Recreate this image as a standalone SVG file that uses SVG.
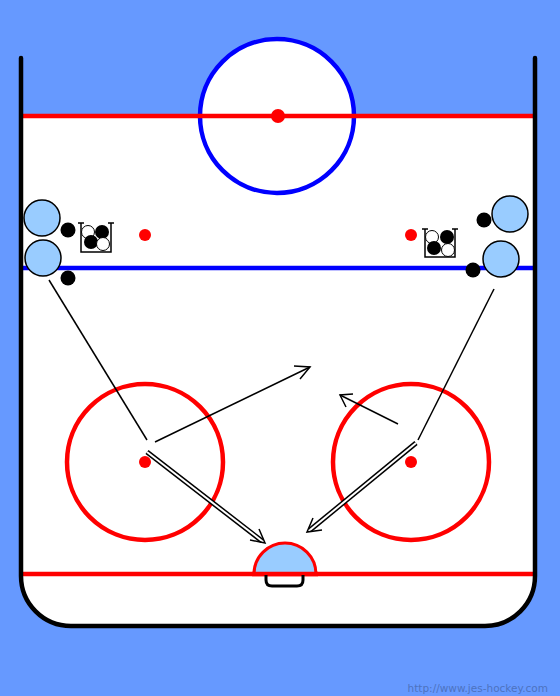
<svg xmlns="http://www.w3.org/2000/svg" width="560" height="696" viewBox="0 0 560 696">
<style>
.red{stroke:#ff0000;fill:none;stroke-width:4.5}
.dot{fill:#ff0000}
.player{fill:#99ccff;stroke:#000;stroke-width:1.5}
.puck{fill:#000}
.wpuck{fill:#fff;stroke:#000;stroke-width:1}
.line{stroke:#000;stroke-width:1.5;fill:none}
</style>
<rect width="560" height="696" fill="#6699ff"/>
<g id="rink">
<path d="M21,116 L21,576 A50,50 0 0 0 71,626 L485,626 A50,50 0 0 0 535,576 L535,116 Z" fill="#fff"/>
<circle cx="277" cy="116" r="77" fill="#fff" stroke="#0000ff" stroke-width="4.5"/>
<line x1="21" y1="116" x2="535" y2="116" stroke="#ff0000" stroke-width="4.5"/>
<circle class="dot" cx="278" cy="116" r="7"/>
<line x1="21" y1="268" x2="535" y2="268" stroke="#0000ff" stroke-width="4.5"/>
<line x1="21" y1="574" x2="535" y2="574" stroke="#ff0000" stroke-width="4.5"/>
<circle class="dot" cx="145" cy="235" r="6"/>
<circle class="dot" cx="411" cy="235" r="6"/>
<circle class="red" cx="145" cy="462" r="78"/>
<circle class="red" cx="411" cy="462" r="78"/>
<circle class="dot" cx="145" cy="462" r="6"/>
<circle class="dot" cx="411" cy="462" r="6"/>
<path d="M254,574 A31,31 0 0 1 316,574 Z" fill="#99ccff" stroke="#ff0000" stroke-width="3"/>
<line x1="252" y1="574" x2="318" y2="574" stroke="#ff0000" stroke-width="4.5"/>
<path d="M266,575 L266,580 Q266,586 272,586 L297,586 Q303,586 303,580 L303,575" fill="none" stroke="#000" stroke-width="3"/>
<path d="M21,58 L21,576 A50,50 0 0 0 71,626 L485,626 A50,50 0 0 0 535,576 L535,58" fill="none" stroke="#000" stroke-width="4.5" stroke-linecap="round"/>
</g>
<g id="bucket-left">
<path d="M78,223 L84,223 M81,223 L81,252 L111,252 L111,223 M108,223 L114,223" class="line"/>
<circle class="wpuck" cx="88" cy="232" r="6.5"/>
<circle class="puck" cx="102" cy="232" r="7"/>
<circle class="puck" cx="91" cy="242" r="7"/>
<circle class="wpuck" cx="103" cy="244" r="6.5"/>
</g>
<g id="bucket-right">
<path d="M422,229 L428,229 M425,229 L425,257 L455,257 L455,229 M452,229 L458,229" class="line"/>
<circle class="wpuck" cx="432" cy="237" r="6.5"/>
<circle class="puck" cx="447" cy="237" r="7"/>
<circle class="puck" cx="434" cy="248" r="7"/>
<circle class="wpuck" cx="448" cy="250" r="6.5"/>
</g>
<g id="players">
<circle class="player" cx="42" cy="218" r="18"/>
<circle class="player" cx="43" cy="258" r="18"/>
<circle class="player" cx="510" cy="214" r="18"/>
<circle class="player" cx="501" cy="259" r="18"/>
<circle class="puck" cx="68" cy="230" r="7.5"/>
<circle class="puck" cx="68" cy="278" r="7.5"/>
<circle class="puck" cx="484" cy="220" r="7.5"/>
<circle class="puck" cx="473" cy="270" r="7.5"/>
</g>
<g id="connectors">
<line class="line" x1="49" y1="280" x2="147" y2="440"/>
<line class="line" x1="494" y1="289" x2="418" y2="440"/>
<line class="line" x1="155" y1="442" x2="310" y2="367"/>
<path class="line" d="M294,366 L310,367 L300,379"/>
<line class="line" x1="398" y1="424" x2="340" y2="395"/>
<path class="line" d="M346,407 L340,395 L353,394"/>
<line x1="147" y1="452" x2="262" y2="541" stroke="#000" stroke-width="5"/>
<line x1="147" y1="452" x2="262" y2="541" stroke="#fff" stroke-width="2"/>
<path class="line" d="M250,540 L265,543 L259,529"/>
<line x1="416" y1="443" x2="310" y2="530" stroke="#000" stroke-width="5"/>
<line x1="416" y1="443" x2="310" y2="530" stroke="#fff" stroke-width="2"/>
<path class="line" d="M313,518 L307,532 L322,530"/>
</g>
<text x="548" y="692" text-anchor="end" font-family="DejaVu Sans, sans-serif" font-size="10.5" fill="#4d73bf">http://www.jes-hockey.com</text>
</svg>
